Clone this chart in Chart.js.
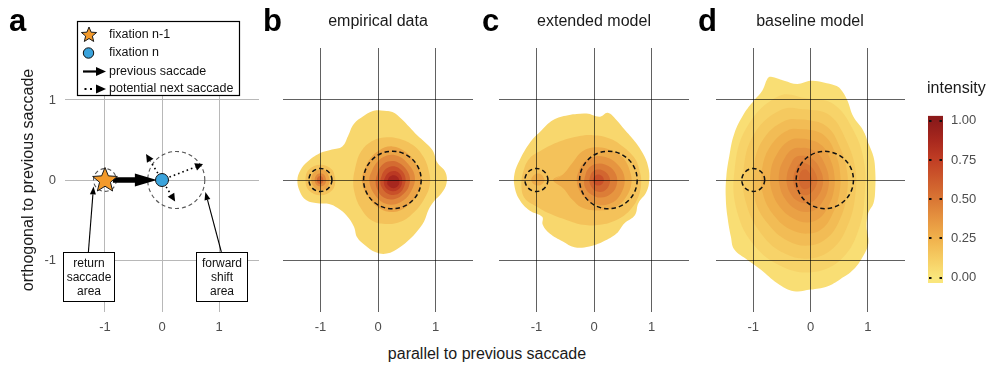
<!DOCTYPE html>
<html>
<head>
<meta charset="utf-8">
<title>saccade densities</title>
<script src="https://cdn.jsdelivr.net/npm/chart.js@4.4.1/dist/chart.umd.min.js"></script>
<style>
  body { margin: 0; background: #fff; }
  #fig { position: relative; width: 989px; height: 367px; overflow: hidden; font-family: "Liberation Sans", Arial, sans-serif; }
  #fig canvas { position: absolute; }
  .txt { position: absolute; white-space: nowrap; color: #1a1a1a; }
  .tag { font-weight: bold; font-size: 31px; line-height: 31px; color: #000; }
  .ttl { font-size: 16px; line-height: 16px; transform: translateX(-50%); }
</style>
</head>
<body>
<div id="fig">
  <canvas id="panelA" style="left:0;top:0" width="262" height="345"></canvas>
  <canvas id="panelB" style="left:283px;top:48px" width="190" height="294"></canvas>
  <canvas id="panelC" style="left:499px;top:48px" width="190" height="294"></canvas>
  <canvas id="panelD" style="left:716px;top:48px" width="189" height="294"></canvas>
  <canvas id="colorbar" style="left:900px;top:100px" width="89" height="200"></canvas>

  <div class="txt tag" style="left:9px;top:5px">a</div>
  <div class="txt tag" style="left:263px;top:5px">b</div>
  <div class="txt tag" style="left:482px;top:5px">c</div>
  <div class="txt tag" style="left:698px;top:5px">d</div>
  <div class="txt ttl" style="left:378px;top:13px">empirical data</div>
  <div class="txt ttl" style="left:594px;top:13px">extended model</div>
  <div class="txt ttl" style="left:810px;top:13px">baseline model</div>
  <div class="txt ttl" style="left:487px;top:346px">parallel to previous saccade</div>
  <div class="txt" style="left:927px;top:80px;font-size:16px;line-height:16px">intensity</div>
</div>

<script>
// ---- data ----
const tickValues = [-1, 0, 1];
const intensityTicks = [0, 0.25, 0.5, 0.75, 1];
const colorbarRange = [-0.035, 1.032];

// schematic (panel a)
const fixations = [{ x: -1, y: 0 }, { x: 0, y: 0 }];          // n-1, n
const prevSaccade = [[-0.86, 0], [-0.09, 0]];
const nextSaccades = [[-0.28, 0.325], [0.72, 0.2], [0.23, -0.27]];
const areaCircles = [{ x: -1, y: 0, r: 0.2 }, { x: 0.25, y: 0, r: 0.5 }];
const calloutArrows = [[[-1.29, -0.9], [-1.2, -0.08]], [[1.04, -0.9], [0.76, -0.15]]];
const calloutLabels = [['return', 'saccade', 'area'], ['forward', 'shift', 'area']];
const legendLabels = ['fixation n-1', 'fixation n', 'previous saccade', 'potential next saccade'];

// density contours: [level index, x0,y0, x1,y1, ...]
const empiricalLevels = [0.07, 0.17, 0.3, 0.42, 0.55, 0.67, 0.78, 0.88];
const empiricalShapes = [
  [0, [0.05,0.87, 0.25,0.85, 0.4,0.77, 0.55,0.66, 0.68,0.56, 0.82,0.47, 0.95,0.37, 1.03,0.22, 1.17,0.1, 1.19,-0.04,
       1.1,-0.17, 0.98,-0.26, 0.88,-0.37, 0.8,-0.52, 0.68,-0.64, 0.55,-0.74, 0.38,-0.84, 0.15,-0.92, -0.05,-0.9,
       -0.22,-0.82, -0.36,-0.72, -0.42,-0.58, -0.55,-0.44, -0.7,-0.35, -0.85,-0.3, -1.05,-0.29, -1.25,-0.25,
       -1.36,-0.14, -1.4,0, -1.35,0.12, -1.22,0.23, -1.02,0.33, -0.8,0.38, -0.62,0.42, -0.52,0.55, -0.42,0.7,
       -0.25,0.8, -0.1,0.86]],
  [1, [-0.43,0, -0.38,0.2, -0.3,0.35, -0.14,0.47, 0.1,0.53, 0.35,0.52, 0.6,0.44, 0.78,0.3, 0.88,0.12, 0.9,-0.06,
       0.8,-0.24, 0.63,-0.4, 0.4,-0.52, 0.12,-0.55, -0.12,-0.5, -0.3,-0.35, -0.4,-0.18]],
  [1, [-0.74,0, -0.8,0.13, -1,0.19, -1.2,0.13, -1.26,0, -1.2,-0.13, -1,-0.19, -0.8,-0.13]],
  [2, [-0.28,0, -0.18,0.22, 0.02,0.37, 0.25,0.42, 0.48,0.35, 0.66,0.2, 0.75,0.02, 0.68,-0.18, 0.5,-0.33,
       0.27,-0.4, 0.04,-0.36, -0.16,-0.22]],
  [2, [-0.84,0, -0.89,0.1, -1,0.13, -1.12,0.09, -1.16,0, -1.11,-0.09, -1,-0.13, -0.89,-0.1]],
  [3, [-0.15,0, -0.06,0.18, 0.1,0.29, 0.3,0.31, 0.5,0.22, 0.64,0.04, 0.56,-0.16, 0.38,-0.28, 0.15,-0.3, -0.04,-0.2]],
  [3, [-0.9,0, -0.93,0.06, -1,0.08, -1.07,0.06, -1.1,0, -1.07,-0.06, -1,-0.08, -0.93,-0.06]],
  [4, [-0.04,0, 0.03,0.15, 0.17,0.23, 0.35,0.22, 0.52,0.1, 0.55,-0.04, 0.45,-0.17, 0.28,-0.24, 0.1,-0.22, -0.01,-0.12]],
  [4, [-0.95,0, -0.97,0.04, -1.01,0.05, -1.05,0.03, -1.06,0, -1.04,-0.04, -1,-0.05, -0.96,-0.03]],
  [5, [0.04,-0.01, 0.1,0.11, 0.22,0.17, 0.36,0.15, 0.47,0.05, 0.46,-0.07, 0.36,-0.17, 0.2,-0.18, 0.08,-0.11]],
  [6, [0.1,-0.02, 0.15,0.07, 0.25,0.11, 0.36,0.09, 0.42,0, 0.38,-0.1, 0.27,-0.14, 0.15,-0.11]],
  [7, [0.16,-0.03, 0.2,0.04, 0.28,0.06, 0.35,0.03, 0.37,-0.04, 0.32,-0.09, 0.24,-0.1, 0.18,-0.07]]
];

const extendedLevels = [0.07, 0.17, 0.27, 0.37, 0.47, 0.57, 0.67];
const extendedShapes = [
  [0, [-0.45,0.81, -0.13,0.83, 0.1,0.79, 0.24,0.84, 0.39,0.75, 0.53,0.63, 0.71,0.48, 0.85,0.33, 0.94,0.17, 0.96,0,
       0.91,-0.15, 0.77,-0.29, 0.71,-0.44, 0.53,-0.54, 0.39,-0.67, 0.16,-0.77, -0.08,-0.83, -0.34,-0.84,
       -0.54,-0.77, -0.77,-0.67, -0.89,-0.56, -0.9,-0.46, -1.12,-0.38, -1.29,-0.25, -1.38,-0.08, -1.38,0.08,
       -1.29,0.25, -1.12,0.46, -0.94,0.6, -0.71,0.75]],
  [1, [-1.12,0.27, -0.89,0.38, -0.6,0.48, -0.31,0.54, -0.02,0.56, 0.27,0.52, 0.5,0.42, 0.71,0.27, 0.79,0.12,
       0.82,-0.02, 0.77,-0.21, 0.62,-0.38, 0.39,-0.5, 0.1,-0.56, -0.19,-0.56, -0.48,-0.5, -0.77,-0.42, -1,-0.33,
       -1.2,-0.23, -1.26,-0.08, -1.23,0.1]],
  [2, [-0.71,0, -0.54,0.07, -0.37,0.22, -0.2,0.36, 0.05,0.41, 0.3,0.37, 0.5,0.28, 0.62,0.12, 0.65,-0.04,
       0.56,-0.21, 0.39,-0.33, 0.1,-0.38, -0.19,-0.35, -0.37,-0.25, -0.54,-0.1]],
  [2, [-0.86,0, -0.9,0.06, -0.98,0.08, -1.06,0.05, -1.09,0, -1.05,-0.05, -0.97,-0.07, -0.9,-0.05]],
  [3, [-0.3,0, -0.22,0.18, -0.04,0.28, 0.18,0.29, 0.4,0.2, 0.53,0.03, 0.46,-0.18, 0.26,-0.3, 0.02,-0.3, -0.2,-0.19]],
  [4, [-0.17,0, -0.11,0.13, 0.03,0.2, 0.2,0.19, 0.36,0.1, 0.4,-0.04, 0.3,-0.17, 0.12,-0.22, -0.05,-0.18, -0.15,-0.1]],
  [5, [-0.08,0, -0.04,0.09, 0.06,0.13, 0.18,0.11, 0.27,0.03, 0.26,-0.07, 0.17,-0.14, 0.04,-0.14, -0.05,-0.08]],
  [6, [-0.02,0, 0.01,0.05, 0.07,0.07, 0.14,0.05, 0.17,0, 0.14,-0.05, 0.07,-0.07, 0.01,-0.05]]
];

const baselineLevels = [0.04, 0.09, 0.14, 0.2, 0.26, 0.32, 0.38, 0.44, 0.5, 0.56];
const baselineShapes = [
  [0, [-0.69,1.29, -0.46,1.24, -0.23,1.2, 0,1.24, 0.23,1.22, 0.43,1.18, 0.52,1.14, 0.64,1, 0.75,0.79, 0.92,0.62,
       1.01,0.46, 1.1,0.29, 1.13,0.12, 1.13,-0.12, 1.1,-0.29, 1.01,-0.41, 0.98,-0.58, 1.01,-0.79, 0.92,-0.95,
       0.75,-1.12, 0.52,-1.24, 0.29,-1.33, 0,-1.37, -0.29,-1.39, -0.58,-1.29, -0.87,-1.12, -1.1,-1, -1.33,-0.87,
       -1.39,-0.71, -1.45,-0.46, -1.48,-0.21, -1.47,0.04, -1.42,0.29, -1.33,0.58, -1.16,0.83, -0.98,1,
       -0.84,1.12, -0.75,1.27]],
  [1, [-0.55,1.05, -0.05,1.02, 0.4,0.95, 0.75,0.62, 0.93,0.25, 0.95,-0.15, 0.85,-0.6, 0.55,-0.98, 0.05,-1.15,
       -0.5,-1.08, -0.98,-0.82, -1.28,-0.4, -1.33,0.1, -1.12,0.65]],
  [2, [-0.5,0.88, -0.05,0.88, 0.35,0.8, 0.62,0.5, 0.78,0.15, 0.78,-0.2, 0.66,-0.55, 0.4,-0.85, 0,-0.98,
       -0.45,-0.92, -0.85,-0.68, -1.12,-0.3, -1.17,0.12, -0.98,0.58]],
  [3, [-0.45,0.74, -0.05,0.75, 0.3,0.66, 0.52,0.4, 0.64,0.1, 0.63,-0.2, 0.52,-0.48, 0.3,-0.72, -0.02,-0.82,
       -0.4,-0.76, -0.74,-0.55, -0.97,-0.25, -1,0.1, -0.85,0.48]],
  [4, [-0.4,0.62, -0.05,0.63, 0.25,0.55, 0.44,0.32, 0.52,0.07, 0.5,-0.18, 0.4,-0.4, 0.22,-0.6, -0.04,-0.67,
       -0.35,-0.62, -0.63,-0.45, -0.82,-0.2, -0.85,0.1, -0.72,0.4]],
  [5, [-0.35,0.5, -0.06,0.51, 0.2,0.43, 0.35,0.25, 0.42,0.04, 0.4,-0.16, 0.31,-0.33, 0.15,-0.48, -0.06,-0.53,
       -0.3,-0.48, -0.52,-0.35, -0.67,-0.15, -0.7,0.08, -0.59,0.32]],
  [6, [-0.3,0.39, -0.07,0.4, 0.13,0.33, 0.26,0.18, 0.32,0.02, 0.3,-0.13, 0.22,-0.26, 0.09,-0.37, -0.08,-0.4,
       -0.27,-0.36, -0.43,-0.25, -0.53,-0.1, -0.55,0.08, -0.47,0.25]],
  [7, [-0.25,0.29, -0.08,0.3, 0.07,0.24, 0.17,0.13, 0.22,0.01, 0.2,-0.1, 0.14,-0.19, 0.04,-0.27, -0.09,-0.29,
       -0.23,-0.26, -0.34,-0.18, -0.41,-0.06, -0.41,0.07, -0.35,0.19]],
  [8, [-0.2,0.2, -0.09,0.21, 0.02,0.16, 0.09,0.08, 0.12,0, 0.1,-0.07, 0.05,-0.13, -0.03,-0.18, -0.11,-0.19,
       -0.2,-0.16, -0.27,-0.1, -0.3,-0.02, -0.29,0.07, -0.25,0.14]],
  [9, [-0.15,0.12, -0.08,0.13, -0.02,0.09, 0.02,0.03, 0.03,-0.03, 0, -0.08, -0.06,-0.11, -0.13,-0.11,
       -0.18,-0.07, -0.2,0, -0.19,0.07]]
];

// ---- styles ----
const paletteStops = [0, 0.12, 0.25, 0.375, 0.5, 0.625, 0.75, 0.875, 1];
const paletteColors = ['#fae67c', '#f6cd63', '#f0b14c', '#e69440', '#d97634', '#cd5a2c', '#c13e24', '#a8281e', '#8c1a1a'];
const darkGrid = 'rgba(0,0,0,0.62)';
const lightGrid = '#b8b8b8';

Chart.defaults.font.family = '"Liberation Sans", Arial, sans-serif';
Chart.defaults.color = '#4d4d4d';

function hexToRgb(h) {
  const n = parseInt(h.slice(1), 16);
  return [n >> 16, (n >> 8) & 255, n & 255];
}

// map an intensity to the colour bar palette
function colorAt(v) {
  for (let i = 1; i < paletteStops.length; i++) {
    if (v <= paletteStops[i]) {
      const t = (v - paletteStops[i - 1]) / (paletteStops[i] - paletteStops[i - 1]);
      const a = hexToRgb(paletteColors[i - 1]), b = hexToRgb(paletteColors[i]);
      return 'rgb(' + a.map((c, k) => Math.round(c + (b[k] - c) * t)).join(',') + ')';
    }
  }
  return paletteColors[paletteColors.length - 1];
}

function toPoints(flat) {
  const pts = [];
  for (let i = 0; i < flat.length; i += 2) pts.push({ x: flat[i], y: flat[i + 1] });
  return pts.concat(pts.slice(0, 2)); // close the outline
}

const setTicks = s => { s.ticks = tickValues.map(v => ({ value: v })); };

function drawHead(ctx, x0, y0, x1, y1, len, half) {
  const a = Math.atan2(y1 - y0, x1 - x0);
  const bx = x1 - len * Math.cos(a), by = y1 - len * Math.sin(a);
  ctx.beginPath();
  ctx.moveTo(x1, y1);
  ctx.lineTo(bx + half * Math.sin(a), by - half * Math.cos(a));
  ctx.lineTo(bx - half * Math.sin(a), by + half * Math.cos(a));
  ctx.closePath();
  ctx.fill();
  return [bx, by];
}

function starPath(ctx, cx, cy, ro, ri) {
  ctx.beginPath();
  for (let i = 0; i < 10; i++) {
    const r = i % 2 ? ri : ro;
    const a = -Math.PI / 2 + i * Math.PI / 5;
    ctx.lineTo(cx + r * Math.cos(a), cy + r * Math.sin(a));
  }
  ctx.closePath();
}

function drawStar(ctx, cx, cy, ro) {
  starPath(ctx, cx, cy, ro, ro * 0.44);
  ctx.fillStyle = '#f39a2b';
  ctx.fill();
  ctx.strokeStyle = '#1a1a1a';
  ctx.lineWidth = 1;
  ctx.stroke();
}

const starImage = document.createElement('canvas');
starImage.width = 30; starImage.height = 30;
drawStar(starImage.getContext('2d'), 15, 15.5, 13);

function circlesOn(chart, color, dash, width) {
  const { ctx, scales: { x, y } } = chart;
  ctx.save();
  ctx.setLineDash(dash);
  ctx.lineWidth = width;
  ctx.strokeStyle = color;
  areaCircles.forEach(c => {
    const cx = x.getPixelForValue(c.x), cy = y.getPixelForValue(c.y);
    const r = x.getPixelForValue(c.x + c.r) - cx;
    ctx.beginPath();
    ctx.arc(cx, cy, r, 0, Math.PI * 2);
    ctx.stroke();
  });
  ctx.restore();
}

const areaPlugin = {
  id: 'areas',
  afterDraw(chart) { circlesOn(chart, '#111', [4.5, 3], 1.5); }
};

const schematicPlugin = {
  id: 'schematic',
  beforeDatasetsDraw(chart) {
    const { ctx, scales: { x, y } } = chart;
    circlesOn(chart, '#555', [4, 3], 1.1);
    ctx.save();
    ctx.fillStyle = '#000';
    ctx.strokeStyle = '#000';
    // previous saccade
    const [s, e] = prevSaccade;
    const sx = x.getPixelForValue(s[0]), sy = y.getPixelForValue(s[1]);
    const ex = x.getPixelForValue(e[0]), ey = y.getPixelForValue(e[1]);
    const [bx, by] = drawHead(ctx, sx, sy, ex, ey, 22, 6.5);
    ctx.lineWidth = 5.5;
    ctx.beginPath(); ctx.moveTo(sx, sy); ctx.lineTo(bx + 1, by); ctx.stroke();
    // potential next saccades
    const ox = x.getPixelForValue(fixations[1].x), oy = y.getPixelForValue(fixations[1].y);
    nextSaccades.forEach(p => {
      const px = x.getPixelForValue(p[0]), py = y.getPixelForValue(p[1]);
      const a = Math.atan2(py - oy, px - ox);
      const [hx, hy] = drawHead(ctx, ox, oy, px, py, 8, 3.8);
      ctx.save();
      ctx.setLineDash([1.6, 3]);
      ctx.lineWidth = 1.6;
      ctx.beginPath();
      ctx.moveTo(ox + 8 * Math.cos(a), oy + 8 * Math.sin(a));
      ctx.lineTo(hx, hy);
      ctx.stroke();
      ctx.restore();
    });
    ctx.restore();
  },
  afterDraw(chart) {
    const { ctx, scales: { x, y } } = chart;
    ctx.save();
    ctx.fillStyle = '#000';
    ctx.strokeStyle = '#000';
    // callouts
    calloutArrows.forEach((arr, i) => {
      const sx = x.getPixelForValue(arr[0][0]), sy = y.getPixelForValue(arr[0][1]);
      const ex = x.getPixelForValue(arr[1][0]), ey = y.getPixelForValue(arr[1][1]);
      ctx.fillStyle = '#000';
      const [hx, hy] = drawHead(ctx, sx, sy, ex, ey, 8, 3);
      ctx.lineWidth = 1.1;
      ctx.beginPath(); ctx.moveTo(sx, sy); ctx.lineTo(hx, hy); ctx.stroke();
      const left = Math.round(sx - 25.5) + 0.5, top = Math.round(sy) + 0.5;
      ctx.fillStyle = '#fff';
      ctx.fillRect(left, top, 51, 49);
      ctx.lineWidth = 1;
      ctx.strokeRect(left, top, 51, 49);
      ctx.fillStyle = '#111';
      ctx.font = '12px "Liberation Sans", Arial, sans-serif';
      ctx.textAlign = 'center';
      ctx.textBaseline = 'middle';
      calloutLabels[i].forEach((t, k) => ctx.fillText(t, left + 25.5, top + 11 + k * 14));
    });
    // legend
    ctx.fillStyle = '#fff';
    ctx.fillRect(77.5, 21.5, 162, 74);
    ctx.lineWidth = 1.2;
    ctx.strokeRect(77.5, 21.5, 162, 74);
    const rows = [34.5, 53, 71.5, 89];
    drawStar(ctx, 89, rows[0] + 0.5, 8);
    ctx.beginPath();
    ctx.arc(88.5, rows[1], 5.2, 0, Math.PI * 2);
    ctx.fillStyle = '#3aa3dc'; ctx.fill();
    ctx.strokeStyle = '#111'; ctx.lineWidth = 1; ctx.stroke();
    ctx.fillStyle = '#000'; ctx.strokeStyle = '#000';
    drawHead(ctx, 83, rows[2], 106, rows[2], 10, 4.5);
    ctx.lineWidth = 2.2;
    ctx.beginPath(); ctx.moveTo(83, rows[2]); ctx.lineTo(97, rows[2]); ctx.stroke();
    drawHead(ctx, 83, rows[3], 106, rows[3], 10, 4.5);
    ctx.fillRect(84.5, rows[3] - 1, 2, 2);
    ctx.fillRect(90, rows[3] - 1, 2, 2);
    ctx.fillStyle = '#111';
    ctx.font = '12.5px "Liberation Sans", Arial, sans-serif';
    ctx.textAlign = 'left';
    ctx.textBaseline = 'middle';
    legendLabels.forEach((t, i) => ctx.fillText(t, 109, rows[i]));
    ctx.restore();
  }
};

// ---- panel a: schematic ----
new Chart(document.getElementById('panelA'), {
  type: 'scatter',
  data: {
    datasets: [
      { data: [fixations[1]], pointStyle: 'circle', pointRadius: 6.5, backgroundColor: '#3aa3dc', borderColor: '#111', borderWidth: 1 },
      { data: [fixations[0]], pointStyle: starImage, pointRadius: 13 }
    ]
  },
  options: {
    responsive: false, animation: false, events: [],
    layout: { autoPadding: false, padding: { left: 15, right: 3, top: 48, bottom: 3 } },
    plugins: { legend: { display: false }, tooltip: { enabled: false } },
    scales: {
      x: {
        type: 'linear', min: -1.7, max: 1.7, afterBuildTicks: setTicks, afterFit: s => { s.height = 30; },
        grid: { color: lightGrid, drawTicks: false }, border: { display: false },
        ticks: { padding: 8, font: { size: 13 } }
      },
      y: {
        type: 'linear', min: -1.65, max: 1.65, afterBuildTicks: setTicks, afterFit: s => { s.width = 50; },
        grid: { color: lightGrid, drawTicks: false }, border: { display: false },
        ticks: { padding: 9, font: { size: 13 } },
        title: { display: true, text: 'orthogonal to previous saccade', font: { size: 16 }, color: '#1a1a1a', padding: 4 }
      }
    }
  },
  plugins: [schematicPlugin]
});

// ---- panels b-d: density contours ----
function densityChart(id, levels, shapes) {
  const datasets = shapes.map(([lv, flat]) => ({
    data: toPoints(flat),
    fill: 'shape',
    backgroundColor: colorAt(levels[lv]),
    borderColor: 'rgba(0,0,0,0)',
    borderWidth: 0,
    pointRadius: 0,
    tension: 0.4,
    order: -lv
  }));
  return new Chart(document.getElementById(id), {
    type: 'line',
    data: { datasets },
    options: {
      responsive: false, animation: false, events: [],
      layout: { autoPadding: false, padding: 0 },
      plugins: { legend: { display: false }, tooltip: { enabled: false } },
      scales: {
        x: {
          type: 'linear', min: -1.65, max: 1.65, afterBuildTicks: setTicks, afterFit: s => { s.height = 30; },
          grid: { color: darkGrid, z: 1, drawTicks: false }, border: { display: false },
          ticks: { padding: 8, font: { size: 13 } }
        },
        y: {
          type: 'linear', min: -1.65, max: 1.65, afterBuildTicks: setTicks, afterFit: s => { s.width = 0; },
          grid: { color: darkGrid, z: 1, drawTicks: false }, border: { display: false },
          ticks: { display: false }
        }
      }
    },
    plugins: [areaPlugin]
  });
}

densityChart('panelB', empiricalLevels, empiricalShapes);
densityChart('panelC', extendedLevels, extendedShapes);
densityChart('panelD', baselineLevels, baselineShapes);

// ---- colour bar ----
function barGradient(chart) {
  const area = chart.chartArea;
  if (!area) return paletteColors[0];
  const g = chart.ctx.createLinearGradient(0, area.bottom, 0, area.top);
  const span = colorbarRange[1] - colorbarRange[0];
  g.addColorStop(0, paletteColors[0]);
  paletteStops.forEach((v, i) => g.addColorStop((v - colorbarRange[0]) / span, paletteColors[i]));
  g.addColorStop(1, paletteColors[paletteColors.length - 1]);
  return g;
}

const barTicks = {
  id: 'barTicks',
  afterDatasetsDraw(chart) {
    const { ctx, chartArea: a, scales: { y } } = chart;
    ctx.save();
    ctx.strokeStyle = '#111';
    ctx.lineWidth = 2;
    intensityTicks.forEach(v => {
      const py = Math.round(y.getPixelForValue(v));
      ctx.beginPath();
      ctx.moveTo(a.left + 1, py); ctx.lineTo(a.left + 3.5, py);
      ctx.moveTo(a.right - 3.5, py); ctx.lineTo(a.right - 1, py);
      ctx.stroke();
    });
    ctx.restore();
  }
};

new Chart(document.getElementById('colorbar'), {
  type: 'bar',
  data: {
    labels: ['intensity'],
    datasets: [{
      data: [colorbarRange],
      backgroundColor: c => barGradient(c.chart),
      borderWidth: 0, barPercentage: 1, categoryPercentage: 1
    }]
  },
  options: {
    responsive: false, animation: false, events: [],
    layout: { autoPadding: false, padding: { left: 28, top: 13, bottom: 17, right: 0 } },
    plugins: { legend: { display: false }, tooltip: { enabled: false } },
    scales: {
      x: { display: false },
      y: {
        position: 'right', min: colorbarRange[0], max: colorbarRange[1],
        afterBuildTicks: s => { s.ticks = intensityTicks.map(v => ({ value: v })); },
        afterFit: s => { s.width = 46; },
        grid: { display: false, drawTicks: false }, border: { display: false },
        ticks: { padding: 8, font: { size: 13 }, callback: v => v.toFixed(2) }
      }
    }
  },
  plugins: [barTicks]
});
</script>
</body>
</html>
